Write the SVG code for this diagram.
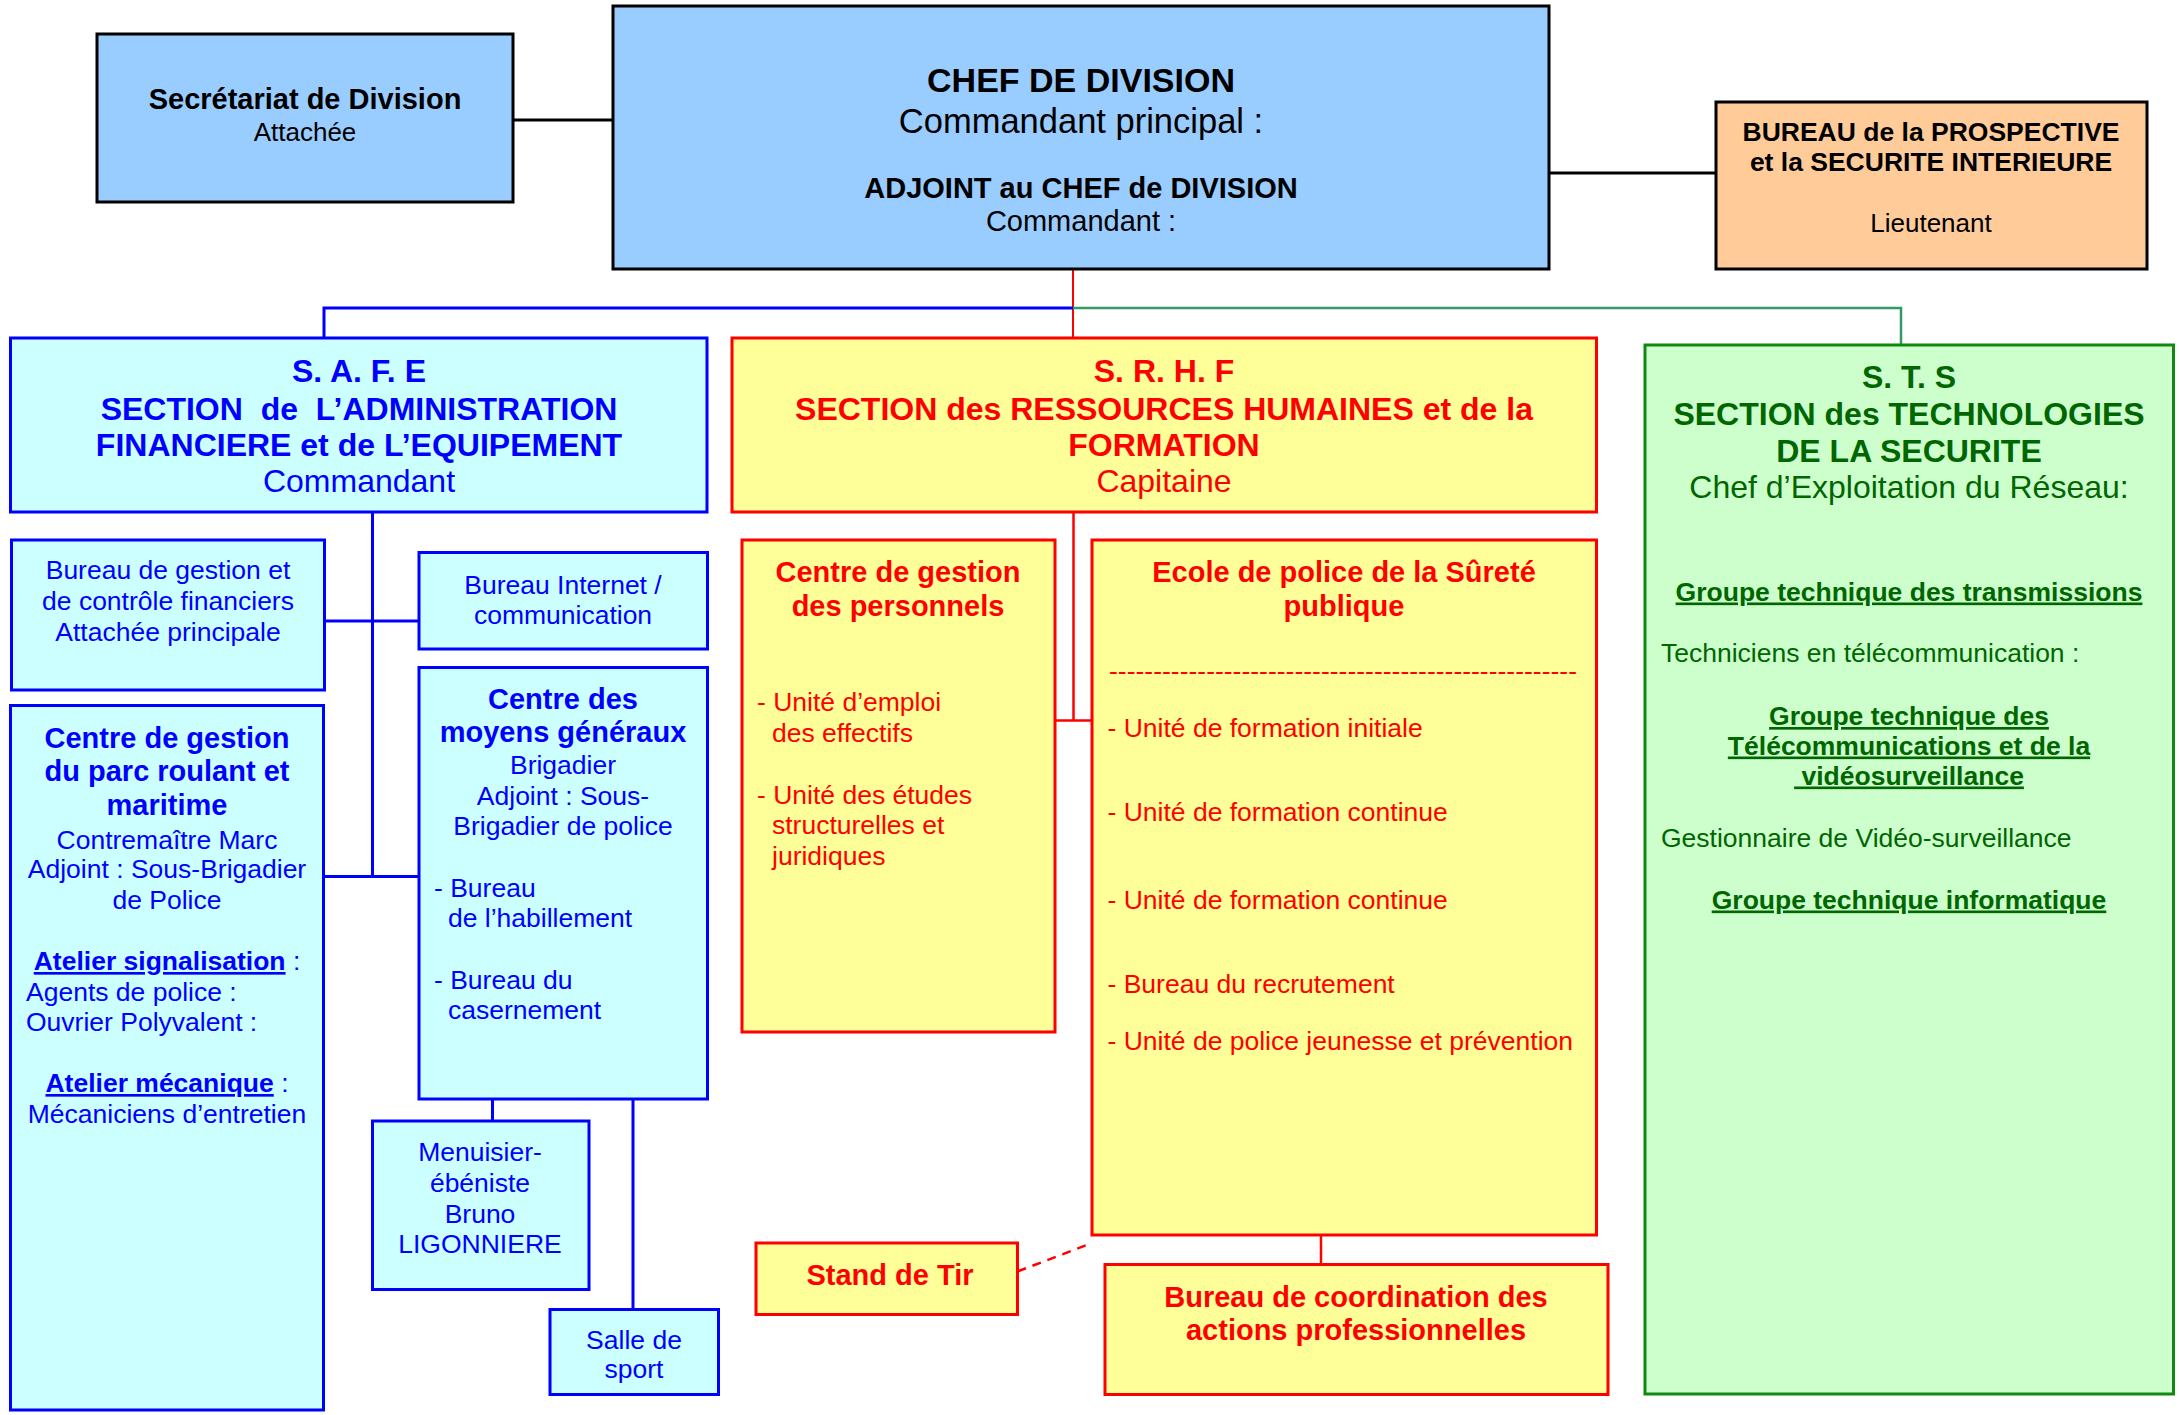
<svg xmlns="http://www.w3.org/2000/svg" width="2179" height="1415" viewBox="0 0 2179 1415">
<style>
text{font-family:"Liberation Sans",Arial,sans-serif}
.c{text-anchor:middle}
.b{font-weight:bold}
.blk{fill:#000}
.blu{fill:#0000ff}
.red{fill:#ff0000}
.grn{fill:#006600}
.bx{stroke-width:3}
.u{text-decoration:underline}
</style>
<rect width="2179" height="1415" fill="#fff"/>
<g id="connectors" fill="none">
  <line x1="513" y1="120" x2="613" y2="120" stroke="#000" stroke-width="3"/>
  <line x1="1549" y1="173" x2="1716" y2="173" stroke="#000" stroke-width="3"/>
  <line x1="1073" y1="269" x2="1073" y2="338" stroke="#ff0000" stroke-width="2"/>
  <polyline points="324,338 324,308 1073,308" stroke="#0000ff" stroke-width="3"/>
  <polyline points="1073,308 1901,308 1901,345" stroke="#339966" stroke-width="2.5"/>
  <line x1="372.5" y1="512" x2="372.5" y2="876.5" stroke="#0000ff" stroke-width="3"/>
  <line x1="324" y1="621" x2="419" y2="621" stroke="#0000ff" stroke-width="3"/>
  <line x1="323" y1="876.5" x2="419" y2="876.5" stroke="#0000ff" stroke-width="3"/>
  <line x1="492.5" y1="1099" x2="492.5" y2="1121" stroke="#0000ff" stroke-width="3"/>
  <line x1="633" y1="1099" x2="633" y2="1309" stroke="#0000ff" stroke-width="3"/>
  <line x1="1073.5" y1="512" x2="1073.5" y2="720.5" stroke="#ff0000" stroke-width="2.5"/>
  <line x1="1055" y1="720.5" x2="1092" y2="720.5" stroke="#ff0000" stroke-width="2.5"/>
  <line x1="1321" y1="1235" x2="1321" y2="1264" stroke="#ff0000" stroke-width="2.5"/>
  <line x1="1017.5" y1="1271.5" x2="1092" y2="1243" stroke="#ff0000" stroke-width="2.5" stroke-dasharray="9,7"/>
</g>
<g id="secretariat">
  <rect x="97" y="34" width="416" height="168" fill="#99ccff" stroke="#000" class="bx"/>
  <text x="305" y="109" class="c b blk" font-size="29">Secrétariat de Division</text>
  <text x="305" y="141" class="c blk" font-size="26">Attachée</text>
</g>
<g id="chef">
  <rect x="613" y="6" width="936" height="263" fill="#99ccff" stroke="#000" class="bx"/>
  <text x="1081" y="92" class="c b blk" font-size="34">CHEF DE DIVISION</text>
  <text x="1081" y="133" class="c blk" font-size="34.5">Commandant principal :</text>
  <text x="1081" y="198" class="c b blk" font-size="29">ADJOINT au CHEF de DIVISION</text>
  <text x="1081" y="231" class="c blk" font-size="29">Commandant :</text>
</g>
<g id="prospective">
  <rect x="1716" y="102" width="431" height="167" fill="#ffcc99" stroke="#000" class="bx"/>
  <text x="1931" y="141" class="c b blk" font-size="26.5">BUREAU de la PROSPECTIVE</text>
  <text x="1931" y="171" class="c b blk" font-size="26.5">et la SECURITE INTERIEURE</text>
  <text x="1931" y="232" class="c blk" font-size="26">Lieutenant</text>
</g>
<g id="safe">
  <rect x="10.5" y="338" width="696.5" height="174" fill="#ccffff" stroke="#0000ff" class="bx"/>
  <text x="359" y="382" class="c b blu" font-size="32">S. A. F. E</text>
  <text x="359" y="419.5" class="c b blu" font-size="32" xml:space="preserve">SECTION  de  L’ADMINISTRATION</text>
  <text x="359" y="456" class="c b blu" font-size="32">FINANCIERE et de L’EQUIPEMENT</text>
  <text x="359" y="491.5" class="c blu" font-size="32">Commandant</text>
</g>
<g id="srhf">
  <rect x="732" y="338" width="864.5" height="174" fill="#ffff99" stroke="#ff0000" class="bx"/>
  <text x="1164" y="382" class="c b red" font-size="32">S. R. H. F</text>
  <text x="1164" y="419.5" class="c b red" font-size="32">SECTION des RESSOURCES HUMAINES et de la</text>
  <text x="1164" y="456" class="c b red" font-size="32">FORMATION</text>
  <text x="1164" y="491.5" class="c red" font-size="32">Capitaine</text>
</g>
<g id="sts">
  <rect x="1645" y="345" width="528.5" height="1049" fill="#ccffcc" stroke="#118811" class="bx"/>
  <text x="1909" y="388" class="c b grn" font-size="32">S. T. S</text>
  <text x="1909" y="425" class="c b grn" font-size="32">SECTION des TECHNOLOGIES</text>
  <text x="1909" y="461.5" class="c b grn" font-size="32">DE LA SECURITE</text>
  <text x="1909" y="497.5" class="c grn" font-size="32">Chef d’Exploitation du Réseau:</text>
  <text x="1909" y="600.5" class="c b grn u" font-size="26.5">Groupe technique des transmissions</text>
  <text x="1661" y="662" class="grn" font-size="26.5">Techniciens en télécommunication :</text>
  <text x="1909" y="725" class="c b grn u" font-size="26.5">Groupe technique des</text>
  <text x="1909" y="754.5" class="c b grn u" font-size="26.5">Télécommunications et de la</text>
  <text x="1909" y="784.5" class="c b grn u" font-size="26.5" xml:space="preserve"> vidéosurveillance</text>
  <text x="1661" y="847" class="grn" font-size="26.5">Gestionnaire de Vidéo-surveillance</text>
  <text x="1909" y="908.5" class="c b grn u" font-size="26.5">Groupe technique informatique</text>
</g>
<g id="bureau-gestion">
  <rect x="11.5" y="540" width="313" height="150" fill="#ccffff" stroke="#0000ff" class="bx"/>
  <text x="168" y="579" class="c blu" font-size="26.5">Bureau de gestion et</text>
  <text x="168" y="610" class="c blu" font-size="26.5">de contrôle financiers</text>
  <text x="168" y="641" class="c blu" font-size="26.5">Attachée principale</text>
</g>
<g id="bureau-internet">
  <rect x="419" y="552.5" width="288.5" height="96.5" fill="#ccffff" stroke="#0000ff" class="bx"/>
  <text x="563" y="593.5" class="c blu" font-size="26.5">Bureau Internet /</text>
  <text x="563" y="624" class="c blu" font-size="26.5">communication</text>
</g>
<g id="centre-parc">
  <rect x="10.5" y="705.5" width="313" height="704.5" fill="#ccffff" stroke="#0000ff" class="bx"/>
  <text x="167" y="748" class="c b blu" font-size="29">Centre de gestion</text>
  <text x="167" y="781" class="c b blu" font-size="29">du parc roulant et</text>
  <text x="167" y="815" class="c b blu" font-size="29">maritime</text>
  <text x="167" y="848.5" class="c blu" font-size="26.5">Contremaître Marc</text>
  <text x="167" y="878" class="c blu" font-size="26.5">Adjoint : Sous-Brigadier</text>
  <text x="167" y="908.5" class="c blu" font-size="26.5">de Police</text>
  <text x="167" y="970" class="c blu" font-size="26.5"><tspan class="b u">Atelier signalisation</tspan> :</text>
  <text x="26" y="1001" class="blu" font-size="26.5">Agents de police :</text>
  <text x="26" y="1031" class="blu" font-size="26.5">Ouvrier Polyvalent :</text>
  <text x="167" y="1092" class="c blu" font-size="26.5"><tspan class="b u">Atelier mécanique</tspan> :</text>
  <text x="167" y="1123" class="c blu" font-size="26.5">Mécaniciens d’entretien</text>
</g>
<g id="centre-moyens">
  <rect x="419" y="667.5" width="288.5" height="431.5" fill="#ccffff" stroke="#0000ff" class="bx"/>
  <text x="563" y="709" class="c b blu" font-size="29">Centre des</text>
  <text x="563" y="741.5" class="c b blu" font-size="29">moyens généraux</text>
  <text x="563" y="774" class="c blu" font-size="26.5">Brigadier</text>
  <text x="563" y="804.5" class="c blu" font-size="26.5">Adjoint : Sous-</text>
  <text x="563" y="835" class="c blu" font-size="26.5">Brigadier de police</text>
  <text x="434" y="897" class="blu" font-size="26.5">- Bureau</text>
  <text x="448" y="927" class="blu" font-size="26.5">de l’habillement</text>
  <text x="434" y="989" class="blu" font-size="26.5">- Bureau du</text>
  <text x="448" y="1019" class="blu" font-size="26.5">casernement</text>
</g>
<g id="menuisier">
  <rect x="372.5" y="1121" width="216.5" height="168.5" fill="#ccffff" stroke="#0000ff" class="bx"/>
  <text x="480" y="1161" class="c blu" font-size="26.5">Menuisier-</text>
  <text x="480" y="1191.5" class="c blu" font-size="26.5">ébéniste</text>
  <text x="480" y="1222.5" class="c blu" font-size="26.5">Bruno</text>
  <text x="480" y="1253" class="c blu" font-size="26.5">LIGONNIERE</text>
</g>
<g id="salle-sport">
  <rect x="550" y="1309.5" width="168.5" height="85" fill="#ccffff" stroke="#0000ff" class="bx"/>
  <text x="634" y="1349" class="c blu" font-size="26.5">Salle de</text>
  <text x="634" y="1378" class="c blu" font-size="26.5">sport</text>
</g>
<g id="centre-personnels">
  <rect x="742" y="540" width="313" height="492" fill="#ffff99" stroke="#ff0000" class="bx"/>
  <text x="898" y="581.5" class="c b red" font-size="29">Centre de gestion</text>
  <text x="898" y="615.5" class="c b red" font-size="29">des personnels</text>
  <text x="757" y="711" class="red" font-size="26.5">- Unité d’emploi</text>
  <text x="772" y="742" class="red" font-size="26.5">des effectifs</text>
  <text x="757" y="803.5" class="red" font-size="26.5">- Unité des études</text>
  <text x="772" y="834" class="red" font-size="26.5">structurelles et</text>
  <text x="772" y="865" class="red" font-size="26.5">juridiques</text>
</g>
<g id="ecole">
  <rect x="1092" y="540" width="504.5" height="695" fill="#ffff99" stroke="#ff0000" class="bx"/>
  <text x="1344" y="581.5" class="c b red" font-size="29">Ecole de police de la Sûreté</text>
  <text x="1344" y="615.5" class="c b red" font-size="29">publique</text>
  <text x="1109" y="680" class="red" font-size="26.5" textLength="468" lengthAdjust="spacing">-----------------------------------------------------</text>
  <text x="1107.5" y="736.5" class="red" font-size="26.5">- Unité de formation initiale</text>
  <text x="1107.5" y="821" class="red" font-size="26.5">- Unité de formation continue</text>
  <text x="1107.5" y="908.5" class="red" font-size="26.5">- Unité de formation continue</text>
  <text x="1107.5" y="993" class="red" font-size="26.5">- Bureau du recrutement</text>
  <text x="1107.5" y="1049.5" class="red" font-size="26.5">- Unité de police jeunesse et prévention</text>
</g>
<g id="stand-tir">
  <rect x="756" y="1243" width="261.5" height="71.5" fill="#ffff99" stroke="#ff0000" class="bx"/>
  <text x="890" y="1285" class="c b red" font-size="29">Stand de Tir</text>
</g>
<g id="bureau-coordination">
  <rect x="1105" y="1264.5" width="503" height="130" fill="#ffff99" stroke="#ff0000" class="bx"/>
  <text x="1356" y="1307" class="c b red" font-size="29">Bureau de coordination des</text>
  <text x="1356" y="1340" class="c b red" font-size="29">actions professionnelles</text>
</g>
</svg>
